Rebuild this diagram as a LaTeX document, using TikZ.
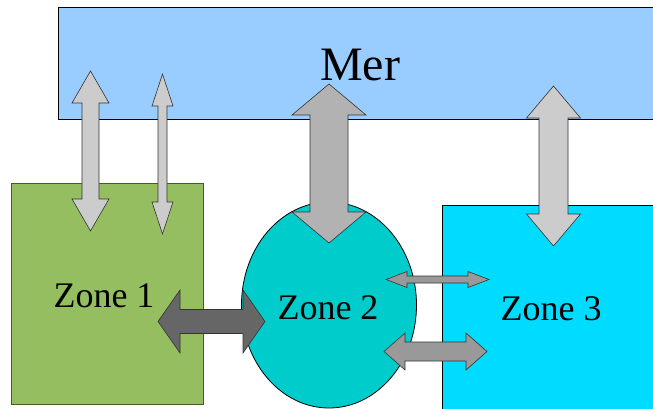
\documentclass[tikz,border=0pt]{standalone}
\usepackage{fontspec}
\setmainfont{Liberation Serif}
\definecolor{merblue}{HTML}{99CCFF}
\definecolor{zonegreen}{HTML}{95BE60}
\definecolor{zonegreenline}{HTML}{4A5A2A}
\definecolor{zoneteal}{HTML}{00CCCC}
\definecolor{zonecyan}{HTML}{00DCFF}
\definecolor{arrlight}{HTML}{CCCCCC}
\definecolor{arrmid}{HTML}{B2B2B2}
\definecolor{arrgray}{HTML}{999999}
\definecolor{arrdark}{HTML}{666666}
\tikzset{
  zonebox/.style={draw=black, line width=0.8pt},
  blockarrow/.style={draw=black!80, line width=0.6pt, line join=miter},
  zonelabel/.style={font=\fontsize{36}{40}\selectfont, anchor=base, inner sep=0pt},
}
% vertical double block arrow: x, ytop, ybot, head half width, shaft half width, head length
\newcommand{\vdarrow}[7]{%
  \fill[#7] (#1,#2) -- ({#1+#4},{#2+#6}) -- ({#1+#5},{#2+#6}) -- ({#1+#5},{#3-#6}) -- ({#1+#4},{#3-#6}) -- (#1,#3) -- ({#1-#4},{#3-#6}) -- ({#1-#5},{#3-#6}) -- ({#1-#5},{#2+#6}) -- ({#1-#4},{#2+#6}) -- cycle;
  \draw[blockarrow] (#1,#2) -- ({#1+#4},{#2+#6}) -- ({#1+#5},{#2+#6}) -- ({#1+#5},{#3-#6}) -- ({#1+#4},{#3-#6}) -- (#1,#3) -- ({#1-#4},{#3-#6}) -- ({#1-#5},{#3-#6}) -- ({#1-#5},{#2+#6}) -- ({#1-#4},{#2+#6}) -- cycle;}
% horizontal double block arrow: y, xleft, xright, head half height, shaft half height, head length
\newcommand{\hdarrow}[7]{%
  \fill[#7] (#2,#1) -- ({#2+#6},{#1-#4}) -- ({#2+#6},{#1-#5}) -- ({#3-#6},{#1-#5}) -- ({#3-#6},{#1-#4}) -- (#3,#1) -- ({#3-#6},{#1+#4}) -- ({#3-#6},{#1+#5}) -- ({#2+#6},{#1+#5}) -- ({#2+#6},{#1+#4}) -- cycle;
  \draw[blockarrow] (#2,#1) -- ({#2+#6},{#1-#4}) -- ({#2+#6},{#1-#5}) -- ({#3-#6},{#1-#5}) -- ({#3-#6},{#1-#4}) -- (#3,#1) -- ({#3-#6},{#1+#4}) -- ({#3-#6},{#1+#5}) -- ({#2+#6},{#1+#5}) -- ({#2+#6},{#1+#4}) -- cycle;}
\begin{document}
\begin{tikzpicture}[x=1pt, y=-1pt]
\useasboundingbox (0,0) rectangle (653,409);
\begin{scope}
\clip (0,0) rectangle (653,409);
% Mer
\draw[zonebox, fill=merblue] (58,7) rectangle (670,119);
\node[font=\fontsize{48}{52}\selectfont, anchor=base, inner sep=0pt] (mer) at (360,81) {Mer};
% Zone 1
\draw[line width=0.8pt, draw=zonegreenline, fill=zonegreen] (11,183) rectangle (203,404);
\node[zonelabel] (z1) at (104,307) {Zone 1};
% Zone 2
\draw[zonebox, fill=zoneteal] (329,305) ellipse [x radius=87.5, y radius=103];
\node[zonelabel] (z2) at (328,319) {Zone 2};
% Zone 3
\draw[zonebox, fill=zonecyan] (442,205) rectangle (670,420);
\node[zonelabel] (z3) at (551,320) {Zone 3};
% vertical arrows
\vdarrow{90.5}{71}{231}{18.5}{8.5}{32}{arrlight}
\vdarrow{162.5}{74}{234}{10.5}{4.5}{32}{arrlight}
\vdarrow{329}{84}{243}{37}{19}{31}{arrmid}
\vdarrow{553.5}{86}{246}{27}{14.5}{32}{arrlight}
% horizontal arrows
\hdarrow{321.5}{158}{265}{31.5}{12}{22}{arrdark}
\hdarrow{279.5}{386}{489}{8}{3.5}{21}{arrgray}
\hdarrow{351.5}{384}{487}{18.5}{9.5}{21}{arrgray}
\end{scope}
\end{tikzpicture}
\end{document}
